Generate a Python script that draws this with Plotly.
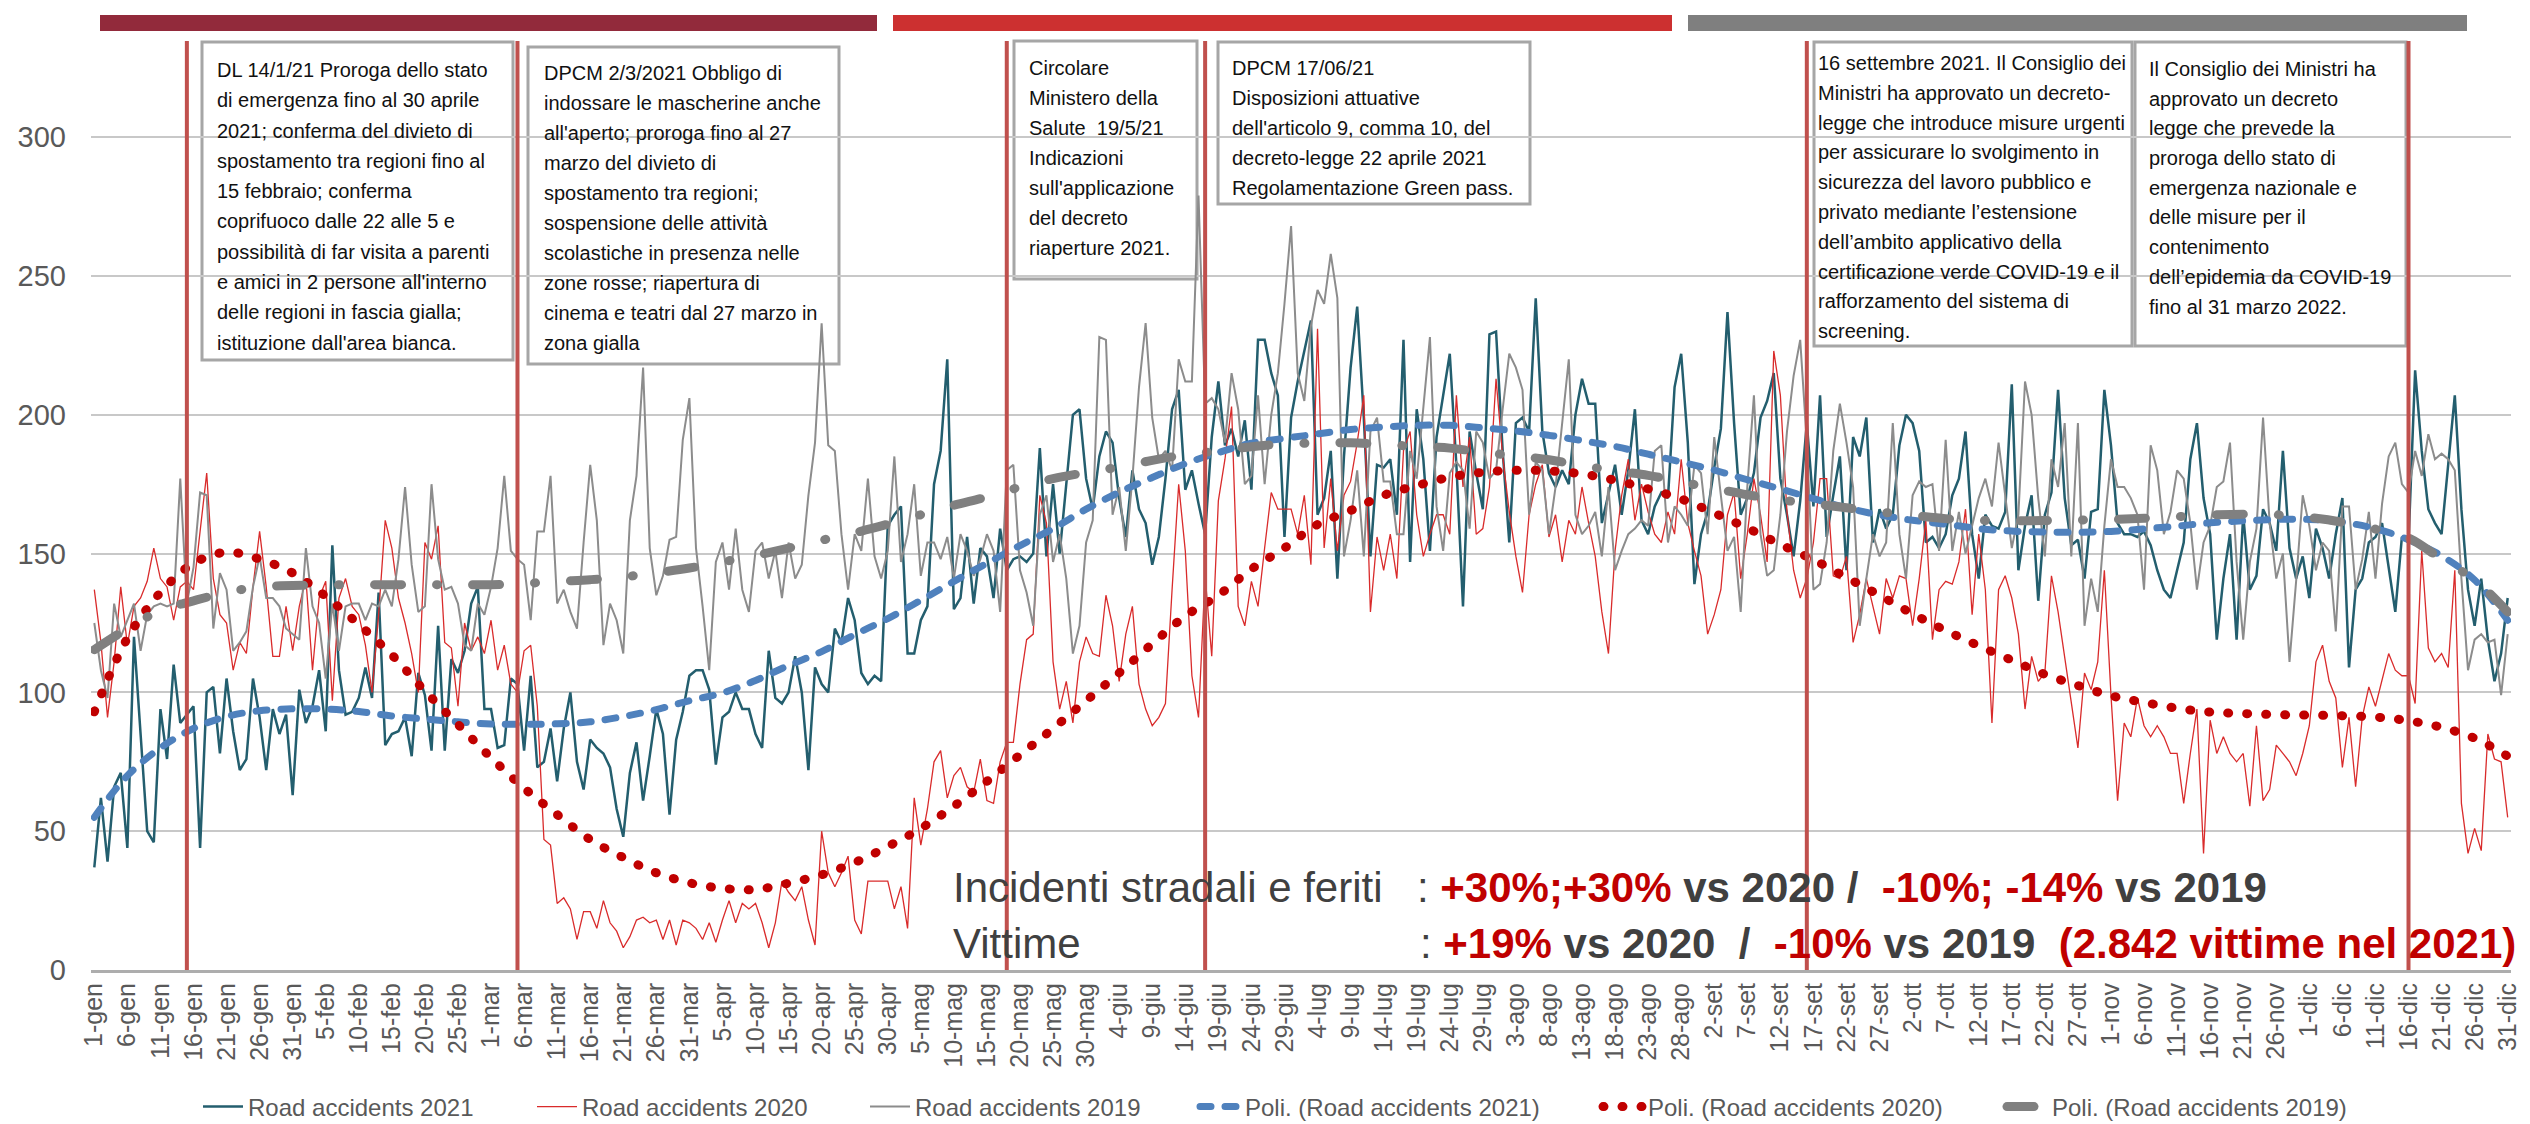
import plotly.graph_objects as go

# ---------------- categories (leap-year day labels, as on the original axis) ----------------
month_names = ["gen", "feb", "mar", "apr", "mag", "giu", "lug", "ago", "set", "ott", "nov", "dic"]
month_days = [31, 29, 31, 30, 31, 30, 31, 31, 30, 31, 30, 31]
categories = [f"{d}-{m}" for m, n in zip(month_names, month_days) for d in range(1, n + 1)]
tick_labels = categories[::5]

# ---------------- daily series ----------------
road_2021 = [
    37, 62, 39, 66, 71, 44, 120, 85, 50, 46, 94, 76, 110, 89, 92, 95, 44,
    100, 102, 78, 105, 86, 72, 76, 105, 91, 72, 94, 85, 92, 63, 101, 89, 95, 108, 86, 153, 108, 92, 93, 98,
    109, 98, 136, 81, 85, 86, 91, 77, 107, 99, 79,
    124, 79, 112, 107, 115, 132, 138, 94, 94, 80, 81, 105, 103, 79, 106, 73, 75, 87, 68, 87, 100, 75, 65, 83,
    80, 78, 73, 58, 48, 71, 82, 61, 77, 94, 85, 56, 83, 93, 106, 108,
    108, 101, 74, 91, 93, 100, 94, 94, 85, 80, 115, 98, 96, 100, 113, 100, 72, 109, 103, 100, 123, 118, 134,
    126, 107, 103, 106, 104, 160, 164, 167, 114, 114, 126, 131, 175, 187, 220, 130, 134, 156, 132, 152, 149,
    134, 159, 144,
    148, 149, 147, 150, 188, 149, 175, 150, 176, 200, 202, 177, 166, 185, 194, 190, 170, 156, 180, 166, 161,
    146, 156, 177, 202, 209, 173, 180, 168, 157, 192, 212, 189, 195, 185, 198, 173, 227, 227, 215, 207, 156,
    199, 212, 223,
    234, 164, 170, 187, 141, 185, 217, 239, 199, 149, 182, 181, 184, 164, 227, 147, 202, 184, 151, 192,
    207, 222, 182, 131, 194, 179, 166, 229, 230, 187, 154, 197, 199, 194, 242, 194, 179, 174, 180, 175,
    200, 213, 204, 204, 161, 171, 182, 164, 180, 202, 162, 157, 167, 172, 170, 210, 222, 190, 139, 157,
    165, 181, 195, 237, 197, 164, 170, 179, 199, 205, 215, 177, 164, 149, 169, 197, 167, 207, 156, 171,
    185, 144, 192, 185, 199, 154, 166, 159, 164, 189, 200, 197, 187,
    154, 156, 152, 157, 171, 177, 194, 157, 141, 164, 160, 159, 165, 211, 144, 160, 171, 133, 164, 172,
    209, 170, 153, 155, 141, 165, 166, 209, 189, 161, 157, 157, 156, 158, 153, 144, 137, 134, 144, 154,
    184, 197, 170, 157, 119, 141, 157, 119, 164, 137, 142, 166, 161, 151, 187, 152, 141, 149, 134, 159,
    152, 141, 157, 170, 109, 137, 141, 154, 156, 161, 145, 129, 156, 154, 216, 187, 166, 161, 157, 182,
    207, 166, 137, 124, 141, 119, 104, 114, 134,
]

road_2020 = [
    137, 118, 91, 111, 138, 117, 131, 134, 140, 152, 141, 138, 126, 138, 140, 137, 158, 179, 141, 128,
    125, 108, 118, 114, 138, 158, 138, 113, 113, 131, 115, 131, 141, 108, 134, 140, 97, 134, 141, 131,
    128, 117, 100, 128, 162, 152, 134, 125, 114, 100, 154, 148, 160, 118, 116, 95, 125, 115, 120, 114,
    126, 108, 117, 103, 100, 115, 117, 95, 47, 45, 24, 26, 22, 11, 21, 21, 15, 25, 17, 14,
    8, 12, 18, 19, 17, 18, 11, 18, 9, 18, 17, 15, 11,
    17, 10, 18, 25, 17, 24, 22, 24, 17, 8, 17, 32, 28, 25, 30, 18, 9, 50, 35, 30,
    35, 41, 18, 13, 32, 32, 32, 32, 22, 30, 15, 62, 45, 58, 75, 79, 62, 70, 73, 66,
    64, 76, 61, 60, 75, 82, 82, 103, 119, 121, 171, 161, 111, 94, 104, 89, 111, 120, 114, 113,
    135, 124, 104, 121, 131, 103, 94, 88, 91, 96, 137, 175, 151, 106, 91, 142, 113, 169, 184, 203,
    131, 124, 140, 131, 152, 172, 166, 166, 166, 157, 171, 146,
    231, 152, 177, 151, 171, 176, 190, 207, 129, 156, 144, 157, 141, 187, 194, 164, 149, 157, 164, 164,
    157, 207, 174, 192, 157, 159, 174, 213, 185, 165, 149, 136, 164, 175, 182, 156, 164, 147, 162, 157,
    174, 161, 149, 129, 114, 151, 171, 184, 162, 175, 165, 157, 154, 165, 157, 184, 161, 151, 142, 121,
    128, 137, 164, 172, 141, 157, 177, 164, 147, 223, 207, 165, 144, 134, 141, 154, 177, 177, 142, 141,
    149, 118, 128, 141, 131, 121, 141, 134, 142, 141, 124, 141,
    162, 119, 137, 140, 139, 147, 166, 128, 157, 137, 89, 137, 142, 134, 121, 94, 113, 104, 107, 142,
    129, 113, 97, 80, 107, 101, 111, 144, 99, 61, 89, 84, 98, 88, 84, 88, 84, 78, 78, 60,
    78, 94, 42, 90, 78, 84, 78, 75, 78, 59, 88, 61, 65, 81, 78, 75, 70, 78, 88, 111,
    117, 104, 98, 73, 91, 66, 91, 102, 95, 104, 114, 108, 106, 106, 96, 151, 116, 111, 114, 109,
    144, 60, 42, 51, 43, 85, 76, 75, 55,
]

road_2019 = [
    125, 108, 98, 132, 120, 126, 132, 115, 128, 131, 132, 131, 132, 177, 132, 145, 172, 171, 123, 143,
    137, 115, 118, 122, 138, 149, 134, 134, 131, 123, 121, 119, 152, 131, 125, 105, 132, 115, 131, 132,
    132, 126, 132, 131, 137, 131, 148, 174, 146, 129, 131, 175, 148, 137, 138, 132, 117, 115, 132, 128,
    138, 152, 178, 151, 148, 146, 126, 158, 158, 178, 132, 137, 129, 123, 154, 182, 162, 117, 132, 126,
    114, 162, 178, 217, 152, 135, 142, 155, 156, 191, 206, 152,
    131, 108, 147, 154, 137, 159, 137, 129, 151, 154, 141, 151, 134, 154, 141, 146, 171, 190, 233, 189,
    187, 157, 137, 157, 151, 177, 149, 141, 151, 185, 147, 157, 175, 142, 154, 154, 148, 156, 141, 157,
    151, 142, 148, 157, 151, 129, 180, 182, 144, 136, 124, 164, 171, 147, 157, 141, 114, 124, 154, 162,
    228, 227, 164, 174, 151, 177, 210, 233, 199, 184, 187, 180, 220, 212, 212, 279, 204, 206, 202, 190,
    215, 202, 175, 178, 207, 175, 200, 215, 240, 268,
    215, 205, 232, 245, 240, 258, 242, 149, 162, 180, 149, 194, 199, 176, 176, 157, 157, 187, 177, 202,
    228, 167, 151, 179, 183, 180, 159, 194, 190, 177, 180, 202, 222, 217, 209, 164, 183, 180, 157, 174,
    197, 220, 164, 157, 160, 165, 149, 174, 144, 151, 157, 159, 162, 160, 187, 189, 154, 167, 164, 160,
    182, 179, 157, 192, 171, 151, 156, 129, 174, 207, 157, 142, 144, 164, 194, 214, 227, 190, 137, 139,
    154, 187, 204, 190, 174, 124, 141, 157, 149, 154, 197, 157, 141, 171, 176,
    174, 175, 151, 191, 151, 165, 150, 160, 170, 177, 167, 190, 170, 152, 164, 212, 200, 170, 149, 184,
    174, 197, 149, 197, 124, 141, 129, 160, 184, 174, 174, 170, 164, 137, 189, 180, 157, 165, 180, 177,
    161, 137, 154, 160, 174, 176, 190, 147, 119, 147, 159, 199, 161, 141, 150, 111, 140, 171, 160, 144,
    154, 151, 122, 167, 167, 137, 148, 165, 141, 168, 185, 190, 175, 172, 187, 178, 193, 184, 186, 184,
    180, 141, 108, 119, 121, 118, 119, 99, 121,
]

# ---------------- polynomial trend lines, read every 5 days ----------------
trend_2021 = [55, 70, 80, 87, 91.3, 93.4, 94.1, 94, 93.1, 91.5, 90.4, 89.4, 88.6, 88.5, 88.7, 89.4, 91.3,
              93.8, 97, 99.8, 104.3, 109.7, 114.7, 120.8, 126.6, 133.2, 140, 146.5, 152.9, 159, 166, 172.1,
              177.4, 182.4, 186.4, 189.8, 191.5, 193.1, 194.7, 195.6, 196.2, 196.2, 195.3, 194.2, 192.6,
              190.7, 188.6, 185.8, 183, 180.1, 176.6, 173.3, 169.8, 166.5, 163.9, 162, 160.6, 159, 158.1,
              157.8, 157.7, 158, 158.9, 159.9, 161.1, 161.8, 162.3, 162.3, 161.3, 159, 155, 149.2, 140.5, 126]
trend_2020 = [93, 119.5, 136, 146.5, 150.5, 148, 143, 134.6, 124.5, 113.5, 100.5, 88.5, 76.5, 65.5, 56, 47,
              40.5, 35, 31.4, 29.4, 29, 31.3, 34.3, 38.7, 44.5, 51, 59, 68, 77.5, 87, 97, 107, 117.5, 127.5,
              135, 144.4, 152, 160.5, 165.5, 171, 174.5, 177.5, 179.3, 180, 179.8, 178.7, 176.4, 173.3,
              169.7, 164.6, 159.2, 153.3, 147.8, 141.4, 135, 128.3, 122.3, 116.8, 111.6, 106.5, 102.5, 98.8,
              96.4, 94.3, 92.9, 92.4, 92, 91.8, 91.6, 91.1, 89.8, 87.4, 83.5, 77]
trend_2019 = [115.4, 123, 129.5, 133, 136, 138, 138.5, 138.7, 138.8, 138.8, 138.8, 138.8, 138.8, 139.2, 140,
              140.6, 141.6, 143.1, 144.8, 147, 149.3, 152, 154.8, 157.5, 160.6, 164, 167.4, 170.4, 174,
              177, 179.2, 181.2, 183.6, 185.6, 187, 188.5, 189.5, 189.8, 189.9, 189.3, 188.6, 188, 186.5,
              185.2, 183.8, 181.7, 179.8, 178.2, 175.8, 173.5, 171.2, 169.4, 167.9, 166.5, 165, 163.8,
              162.6, 162, 161.8, 161.9, 162.1, 162.3, 162.7, 163.3, 163.9, 164.2, 164, 163, 161.3, 158.8,
              155.6, 148, 140.5, 129]

for s in (road_2021, road_2020, road_2019):
    assert len(s) == len(categories), len(s)
for s in (trend_2021, trend_2020, trend_2019):
    assert len(s) == len(tick_labels), len(s)

series_names = ["Road accidents 2021", "Road accidents 2020", "Road accidents 2019"]
trend_names = ["Poli. (Road accidents 2021)", "Poli. (Road accidents 2020)", "Poli. (Road accidents 2019)"]

event_dates = ["15-gen", "5-mar", "18-mag", "17-giu", "16-set", "16-dic"]

box_texts = [
    ["DL 14/1/21 Proroga dello stato", "di emergenza fino al 30 aprile", "2021; conferma del divieto di",
     "spostamento tra regioni fino al", "15 febbraio; conferma", "coprifuoco dalle 22 alle 5 e",
     "possibilità di far visita a parenti", "e amici in 2 persone all'interno",
     "delle regioni in fascia gialla;", "istituzione dall'area bianca."],
    ["DPCM 2/3/2021 Obbligo di", "indossare le mascherine anche", "all'aperto; proroga fino al 27",
     "marzo del divieto di", "spostamento tra regioni;", "sospensione delle attività",
     "scolastiche in presenza nelle", "zone rosse; riapertura di", "cinema e teatri dal 27 marzo in",
     "zona gialla"],
    ["Circolare", "Ministero della", "Salute\u00a0 19/5/21", "Indicazioni", "sull'applicazione",
     "del decreto", "riaperture 2021."],
    ["DPCM 17/06/21", "Disposizioni attuative", "dell'articolo 9, comma 10, del",
     "decreto-legge 22 aprile 2021", "Regolamentazione Green pass."],
    ["16 settembre 2021. Il Consiglio dei", "Ministri ha approvato un decreto-",
     "legge che introduce misure urgenti", "per assicurare lo svolgimento in",
     "sicurezza del lavoro pubblico e", "privato mediante l’estensione", "dell’ambito applicativo della",
     "certificazione verde COVID-19 e il", "rafforzamento del sistema di", "screening."],
    ["Il Consiglio dei Ministri ha", "approvato un decreto", "legge che prevede la", "proroga dello stato di",
     "emergenza nazionale e", "delle misure per il", "contenimento", "dell’epidemia da COVID-19",
     "fino al 31 marzo 2022."],
]

# ---------------- layout geometry (pixels) ----------------
W, H = 2530, 1124
PL, PR, PT, PB = 83, 2503, 30, 962
PW, PH = PR - PL, PB - PT
Y_PER_PX = 2.776  # px per unit


def px(x):
    return (x - PL) / PW


def py(y):
    return (PB - y) / PH


SANS = "Liberation Sans, Arial, sans-serif"
AXIS_GREY = "#595959"

fig = go.Figure()

fig.add_trace(go.Scatter(x=categories, y=road_2021, mode="lines", name=series_names[0],
                         line=dict(color="#235E6E", width=2.5), legendwidth=279))
fig.add_trace(go.Scatter(x=categories, y=road_2020, mode="lines", name=series_names[1],
                         line=dict(color="#D92B2B", width=1.3), legendwidth=278))
fig.add_trace(go.Scatter(x=categories, y=road_2019, mode="lines", name=series_names[2],
                         line=dict(color="#8C8C8C", width=2), legendwidth=275))
fig.add_trace(go.Scatter(x=tick_labels, y=trend_2021, mode="lines", name=trend_names[0],
                         line=dict(color="#4F81BD", width=7, dash="11px,14px", shape="spline"),
                         legendwidth=348))
fig.add_trace(go.Scatter(x=tick_labels, y=trend_2020, mode="lines", name=trend_names[1],
                         line=dict(color="#C00000", width=9, dash="1px,18px", shape="spline"),
                         legendwidth=349))
fig.add_trace(go.Scatter(x=tick_labels, y=trend_2019, mode="lines", name=trend_names[2],
                         line=dict(color="#808080", width=9, dash="27px,35px,1px,35px", shape="spline"),
                         legendwidth=300))

shapes = []
# coloured bars along the top
for x0, x1, col in [(92, 869, "#922A3B"), (885, 1664, "#CC3030"), (1680, 2459, "#7F7F7F")]:
    shapes.append(dict(type="rect", xref="paper", yref="paper", x0=px(x0), x1=px(x1), y0=py(23), y1=py(7),
                       fillcolor=col, line=dict(width=0), layer="above"))

# text boxes
box_geom = [  # x0, y0, x1, y1, text_x, first_line_y, line_step
    (194, 34, 505, 352, 208, 60, 30.3),
    (520, 39, 831, 356, 535, 63, 30.0),
    (1006, 33, 1189, 271, 1020, 58, 30.0),
    (1210, 34, 1522, 196, 1223, 58, 30.0),
    (1806, 34, 2124, 338, 1809, 53, 29.8),
    (2127, 34, 2398, 338, 2140, 59, 29.7),
]
annotations = []
for (x0, y0, x1, y1, tx, ty, step), lines in zip(box_geom, box_texts):
    shapes.append(dict(type="rect", xref="paper", yref="paper", x0=px(x0), x1=px(x1), y0=py(y1), y1=py(y0),
                       line=dict(color="#A6A6A6", width=3), fillcolor="rgba(0,0,0,0)", layer="below"))
    for i, t in enumerate(lines):
        annotations.append(dict(xref="paper", yref="paper", x=px(tx), y=py(ty + 2 + i * step), text=t,
                                showarrow=False, xanchor="left", yanchor="middle", borderpad=0,
                                font=dict(family=SANS, size=20, color="#111111")))

# event marker lines
for d in event_dates:
    xi = categories.index(d)
    shapes.append(dict(type="line", xref="x", yref="paper", x0=xi, x1=xi, y0=0, y1=py(33),
                       line=dict(color="#C0504D", width=4), layer="above"))

RED = "#C00000"
GREY_T = "#404040"
NB = "\u00a0"
big_font = dict(family=SANS, size=42, color=GREY_T)


def red(t):
    return f"<span style='color:{RED}'>{t}</span>"


annotations += [
    dict(xref="paper", yref="paper", x=px(943), y=py(879), xanchor="left", yanchor="middle",
         text="Incidenti stradali e feriti", showarrow=False, font=big_font),
    dict(xref="paper", yref="paper", x=px(1407), y=py(879), xanchor="left", yanchor="middle",
         text=": <b>" + red("+30%;+30%") + f" vs 2020 /{NB} " + red("-10%; -14%") + " vs 2019</b>",
         showarrow=False, font=big_font),
    dict(xref="paper", yref="paper", x=px(943), y=py(935), xanchor="left", yanchor="middle",
         text="Vittime", showarrow=False, font=big_font),
    dict(xref="paper", yref="paper", x=px(1410), y=py(935), xanchor="left", yanchor="middle",
         text=": <b>" + red("+19%") + f" vs 2020 {NB}/{NB} " + red("-10%") + f" vs 2019 {NB}"
              + red("(2.842 vittime nel 2021)") + "</b>",
         showarrow=False, font=big_font),
]

fig.update_layout(
    width=W, height=H,
    margin=dict(l=PL, r=W - PR, t=PT, b=H - PB, pad=0, autoexpand=False),
    paper_bgcolor="white", plot_bgcolor="white",
    shapes=shapes, annotations=annotations,
    showlegend=True,
    legend=dict(orientation="h", x=px(190), xanchor="left", y=py(1099), yanchor="middle",
                font=dict(family=SANS, size=24, color=AXIS_GREY), bgcolor="rgba(0,0,0,0)",
                itemwidth=40, traceorder="normal"),
    xaxis=dict(type="category", categoryorder="array", categoryarray=categories,
               range=[-0.5, len(categories) - 0.5], tickmode="array", tickvals=tick_labels,
               ticktext=tick_labels, tickangle=-90, showgrid=False, ticks="",
               tickfont=dict(family=SANS, size=25, color=AXIS_GREY),
               showline=True, linecolor="#ADADAD", linewidth=3, zeroline=False),
    yaxis=dict(range=[0, PH / Y_PER_PX], dtick=50, tick0=0, showgrid=True, gridcolor="#C8C8C8",
               gridwidth=2, zeroline=False, showline=False, ticks="", ticklabelstandoff=24,
               tickfont=dict(family=SANS, size=29, color=AXIS_GREY)),
)

post = """
var gd = document.getElementById('{plot_id}');
function rc(){
  var t = gd.querySelectorAll('.scatterlayer .trace');
  for (var i = 3; i < t.length; i++) {
    t[i].querySelectorAll('path').forEach(function(p){ p.style.strokeLinecap = 'round'; });
  }
  gd.querySelectorAll('.legend .traces').forEach(function(e){
    var tx = e.textContent || '';
    if (tx.indexOf('Poli.') === 0) {
      e.querySelectorAll('path').forEach(function(p){ p.style.strokeLinecap = 'round'; });
    }
  });
}
rc();
gd.on('plotly_afterplot', rc);
"""

fig.write_html("out.html", post_script=post)
